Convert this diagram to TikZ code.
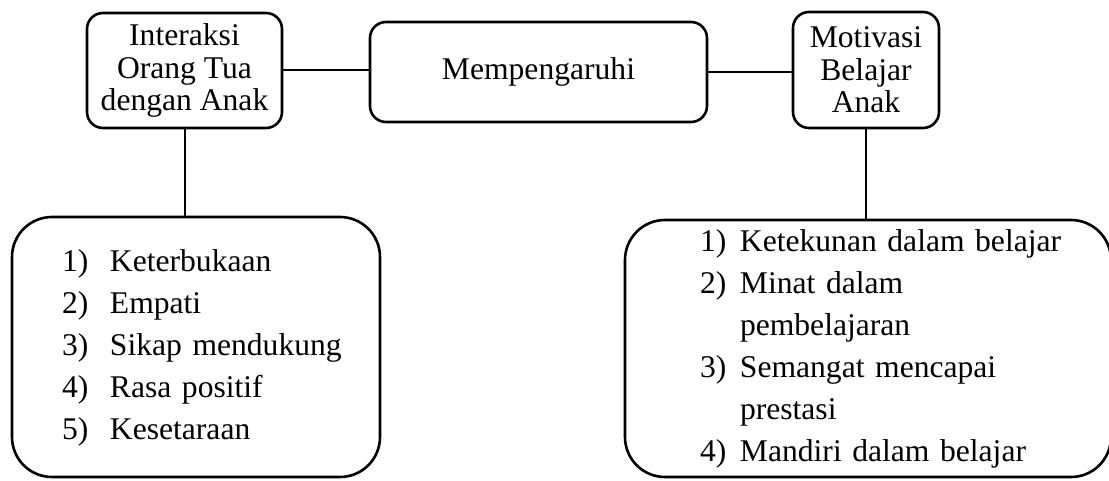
\documentclass[tikz,border=0pt]{standalone}
\usepackage{fontspec}
\setmainfont{Liberation Serif}
\usepackage{array}
\tikzset{
  topbox/.style={draw, line width=1.3pt, rounded corners=8pt, align=center,
    font=\fontsize{15.8}{16.3}\selectfont, inner sep=0pt},
  listbox/.style={draw, line width=1.3pt, rounded corners=20pt, align=left,
    font=\fontsize{15.8}{21}\selectfont, inner ysep=0pt},
  link/.style={line width=1pt}
}
\begin{document}
\begin{tikzpicture}[x=0.5pt,y=-0.5pt]
\useasboundingbox (0,0) rectangle (1109,481);
\node[topbox, minimum width=97.5pt, minimum height=57.5pt] (A) at (184.5,70.5)
  {Interaksi\\Orang Tua\\dengan Anak};
\node[topbox, minimum width=168.5pt, minimum height=50pt] (M) at (538.5,72)
  {Mempengaruhi};
\node[topbox, minimum width=73pt, minimum height=58pt] (B) at (866,70)
  {Motivasi\\Belajar\\Anak};
\node[listbox, minimum width=184pt, minimum height=130pt, text width=134pt, inner xsep=25pt] (L) at (196,347)
  {\begin{tabular}{@{}p{24pt}@{}l@{}}
   1) & Keterbukaan\\
   2) & Empati\\
   3) & Sikap mendukung\\
   4) & Rasa positif\\
   5) & Kesetaraan
   \end{tabular}};
\node[listbox, minimum width=243pt, minimum height=128.5pt, text width=168pt, inner xsep=37.5pt] (R) at (868,348.5)
  {\begin{tabular}{@{}p{20pt}@{}l@{}}
   1) & Ketekunan dalam belajar\\
   2) & Minat dalam\\
      & pembelajaran\\
   3) & Semangat mencapai\\
      & prestasi\\
   4) & Mandiri dalam belajar
   \end{tabular}};
\draw[link] (A.east) -- (A.east -| M.west);
\draw[link] (M.east) -- (M.east -| B.west);
\draw[link] (A.south) -- (A.south |- L.north);
\draw[link] (B.south) -- (B.south |- R.north);
\end{tikzpicture}
\end{document}
